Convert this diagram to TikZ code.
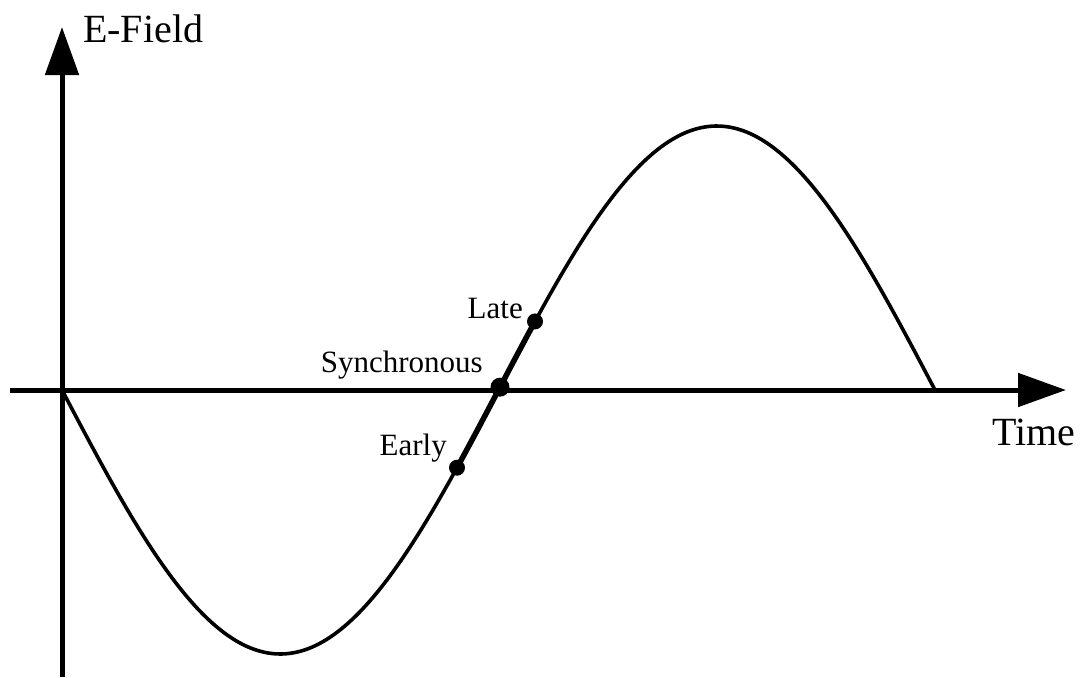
\documentclass[tikz,border=0pt]{standalone}
\usepackage{fontspec}
\setmainfont{Liberation Serif}
\usetikzlibrary{arrows.meta}
\begin{document}
\begin{tikzpicture}[x=1pt,y=-1pt,
  axis/.style={line width=5pt,-{Triangle[length=48pt,width=33pt]}},
  wave/.style={line width=3.6pt,line cap=round,line join=round},
  dot/.style={circle,fill=black,inner sep=0pt,minimum size=16pt},
  bigtext/.style={font=\fontsize{40}{48}\selectfont,inner sep=0pt},
  lbl/.style={font=\fontsize{31}{37}\selectfont,inner sep=0pt},
  declare function={wv(\t)=390+264*sin(((\t-62)/873)*360);}]
\useasboundingbox (0,0) rectangle (1086,677);
\coordinate (ybot) at (62,677);
\coordinate (ytop) at (62,27);
\coordinate (xl) at (10,390);
\coordinate (xr) at (1066,390);
\draw[axis] (ybot) -- (ytop);
\draw[axis] (xl) -- (xr);
\draw[wave] plot[domain=62:935,samples=200,smooth] (\x,{wv(\x)});
\draw[line width=5.5pt] plot[domain=457:535,samples=30,smooth] (\x,{wv(\x)});
\node[dot] (early) at (457,{wv(457)}) {};
\node[dot,minimum size=19pt] (sync) at (500,{wv(500)}) {};
\node[dot] (late) at (535,{wv(535)}) {};
\node[bigtext,anchor=base west] (ef) at (83,43) {E-Field};
\node[bigtext,anchor=base west] (time) at (992,445) {Time};
\node[lbl,anchor=base east] (latel) at (523,318) {Late};
\node[lbl,anchor=base east] (syncl) at (483,372) {Synchronous};
\node[lbl,anchor=base east] (earlyl) at (447,455) {Early};
\end{tikzpicture}
\end{document}
